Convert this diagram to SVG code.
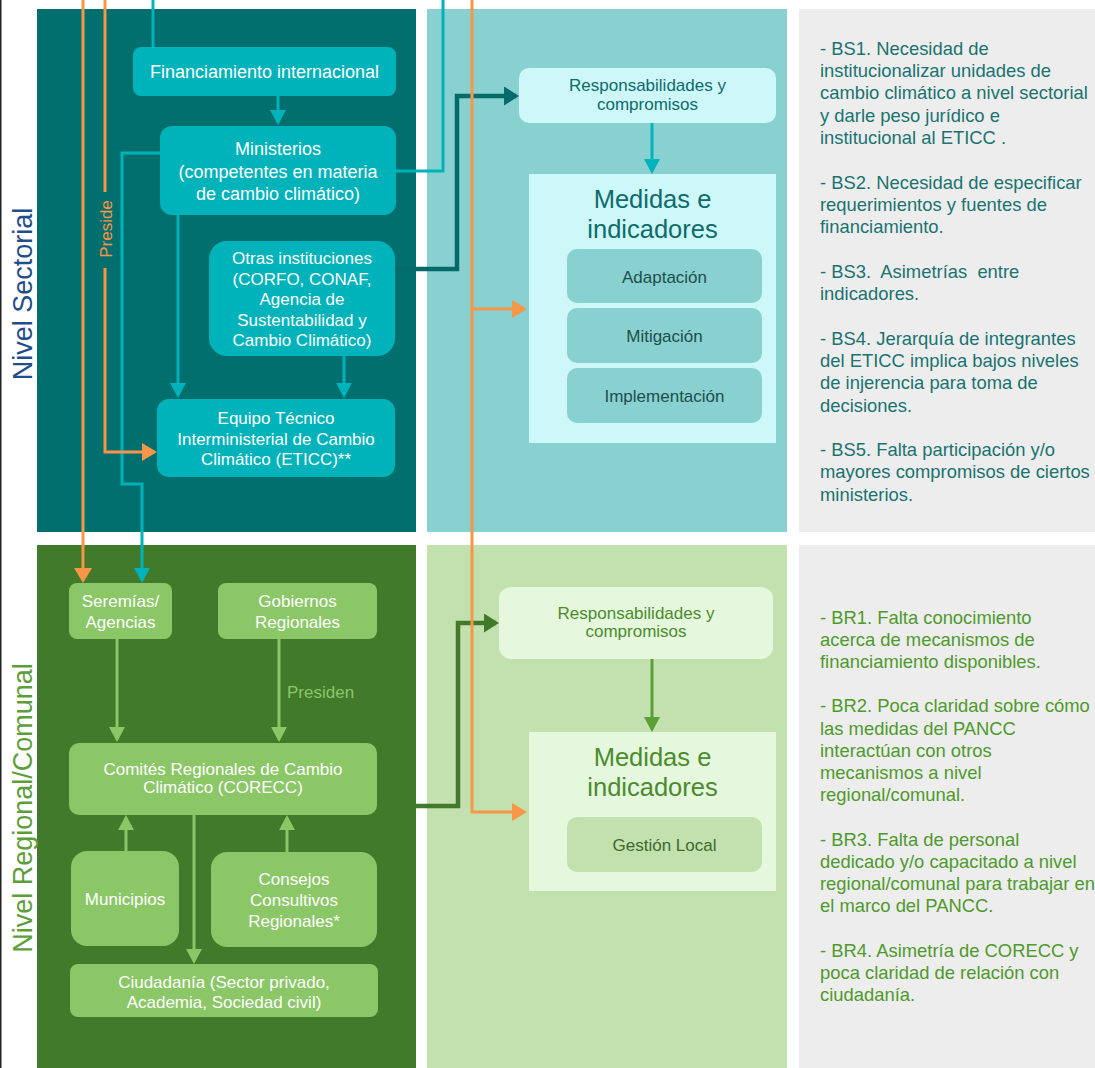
<svg xmlns="http://www.w3.org/2000/svg" width="1095" height="1068" viewBox="0 0 1095 1068">
<defs>
<style>
text{font-family:"Liberation Sans",Arial,sans-serif}
.wt{fill:#ffffff;font-size:17px;text-anchor:middle}
.wt18{fill:#ffffff;font-size:18px;text-anchor:middle}
.tealnode{fill:#00B3BA}
.grnnode{fill:#8BC767}
.ln{fill:none;stroke-width:3}
.lteal{stroke:#00B3BA}
.lorange{stroke:#F79646}
.ldark{stroke:#046B6A;stroke-width:4.5}
.lgrn{stroke:#8BC767}
.lgrnd{stroke:#417A2B;stroke-width:4.5}
.lgrnm{stroke:#5C9E38}
.bs{fill:#197370;font-size:18.4px}
.br{fill:#4E9A2C;font-size:18.4px}
</style>
<marker id="aTeal" markerUnits="userSpaceOnUse" viewBox="0 0 15 16" markerWidth="15" markerHeight="16" refX="12" refY="8" orient="auto"><path d="M0,0 L15,8 L0,16 z" fill="#00B3BA"/></marker>
<marker id="aOrange" markerUnits="userSpaceOnUse" viewBox="0 0 15 18" markerWidth="15" markerHeight="18" refX="12" refY="9" orient="auto"><path d="M0,0 L15,9 L0,18 z" fill="#F79646"/></marker>
<marker id="aDark" markerUnits="userSpaceOnUse" viewBox="0 0 15 19" markerWidth="15" markerHeight="19" refX="12" refY="9.5" orient="auto"><path d="M0,0 L15,9.5 L0,19 z" fill="#046B6A"/></marker>
<marker id="aGrn" markerUnits="userSpaceOnUse" viewBox="0 0 15 16" markerWidth="15" markerHeight="16" refX="12" refY="8" orient="auto"><path d="M0,0 L15,8 L0,16 z" fill="#8BC767"/></marker>
<marker id="aGrnD" markerUnits="userSpaceOnUse" viewBox="0 0 15 19" markerWidth="15" markerHeight="19" refX="12" refY="9.5" orient="auto"><path d="M0,0 L15,9.5 L0,19 z" fill="#417A2B"/></marker>
<marker id="aGrnM" markerUnits="userSpaceOnUse" viewBox="0 0 15 16" markerWidth="15" markerHeight="16" refX="12" refY="8" orient="auto"><path d="M0,0 L15,8 L0,16 z" fill="#5C9E38"/></marker>
</defs>
<rect x="0" y="0" width="1095" height="1068" fill="#ffffff"/>
<rect x="0" y="0" width="1.5" height="1068" fill="#222222"/>

<g id="panels">
<rect x="37" y="9" width="379" height="523" fill="#016F6D"/>
<rect x="427" y="9" width="360" height="523" fill="#88D1D0"/>
<rect x="799" y="9" width="296" height="523" fill="#EDEDED"/>
<rect x="37" y="545" width="379" height="523" fill="#417A2B"/>
<rect x="427" y="545" width="360" height="523" fill="#C3E0AF"/>
<rect x="799" y="545" width="296" height="523" fill="#EDEDED"/>
</g>

<g id="level-labels">
<text transform="translate(32,294) rotate(-90)" text-anchor="middle" font-size="27" fill="#1F4E8A">Nivel Sectorial</text>
<text transform="translate(32,808) rotate(-90)" text-anchor="middle" font-size="27" fill="#5C9E3A">Nivel Regional/Comunal</text>
</g>

<g id="connectors">
<path class="ln lteal" d="M153,0 V47"/>
<path class="ln lteal" d="M278,96 V122" marker-end="url(#aTeal)"/>
<path class="ln lteal" d="M396,171 H443 V0"/>
<path class="ln lteal" d="M160,153 H122 V484 H142 V580" marker-end="url(#aTeal)"/>
<path class="ln lteal" d="M178,215 V395" marker-end="url(#aTeal)"/>
<path class="ln lteal" d="M344,356 V395" marker-end="url(#aTeal)"/>
<path class="ln ldark" d="M395,269 H457 V96 H516" marker-end="url(#aDark)"/>
<path class="ln lteal" d="M652,123 V171" marker-end="url(#aTeal)"/>
<path class="ln lgrn" d="M117,639 V739" marker-end="url(#aGrn)"/>
<path class="ln lgrn" d="M279,639 V739" marker-end="url(#aGrn)"/>
<path class="ln lgrn" d="M126,851 V818" marker-end="url(#aGrn)"/>
<path class="ln lgrn" d="M287,852 V818" marker-end="url(#aGrn)"/>
<path class="ln lgrn" d="M194,815 V961" marker-end="url(#aGrn)"/>
<path class="ln lgrnd" d="M377,806 H458 V623 H496" marker-end="url(#aGrnD)"/>
<path class="ln lgrnm" d="M652,659 V729" marker-end="url(#aGrnM)"/>
<path class="ln lorange" d="M83,0 V580" marker-end="url(#aOrange)"/>
<path class="ln lorange" d="M105,0 V192"/>
<path class="ln lorange" d="M105,268 V452 H154" marker-end="url(#aOrange)"/>
<path class="ln lorange" d="M472,0 V812 H524" marker-end="url(#aOrange)"/>
<path class="ln lorange" d="M472,309 H524" marker-end="url(#aOrange)"/>
<text transform="translate(112,229) rotate(-90)" text-anchor="middle" font-size="17" fill="#F79646">Preside</text>
<text x="287" y="698" font-size="17" fill="#8BC767">Presiden</text>
</g>

<g id="financiamiento">
<rect class="tealnode" x="133" y="47" width="263" height="49" rx="8"/>
<text class="wt18" x="264.5" y="78.3">Financiamiento internacional</text>
</g>
<g id="ministerios">
<rect class="tealnode" x="160" y="126" width="236" height="89" rx="12"/>
<text class="wt18" x="278" y="155.3">Ministerios</text>
<text class="wt18" x="278" y="177.6">(competentes en materia</text>
<text class="wt18" x="278" y="199.9">de cambio climático)</text>
</g>
<g id="otras">
<rect class="tealnode" x="209" y="241" width="186" height="115" rx="18"/>
<text class="wt" x="302" y="264">Otras instituciones</text>
<text class="wt" x="302" y="284.5">(CORFO, CONAF,</text>
<text class="wt" x="302" y="305">Agencia de</text>
<text class="wt" x="302" y="325.5">Sustentabilidad y</text>
<text class="wt" x="302" y="346">Cambio Climático)</text>
</g>
<g id="eticc">
<rect class="tealnode" x="157" y="399" width="238" height="78" rx="12"/>
<text class="wt" x="276" y="424">Equipo Técnico</text>
<text class="wt" x="276" y="444.5">Interministerial de Cambio</text>
<text class="wt" x="276" y="465">Climático (ETICC)**</text>
</g>

<g id="resp-sectorial">
<rect x="519" y="68" width="257" height="55" rx="10" fill="#CDF7F8"/>
<text x="647.5" y="91" font-size="17" text-anchor="middle" fill="#0E6B6A">Responsabilidades y</text>
<text x="647.5" y="110" font-size="17" text-anchor="middle" fill="#0E6B6A">compromisos</text>
</g>
<g id="medidas-sectorial">
<rect x="529" y="174" width="247" height="269" fill="#CDF7F8"/>
<text x="652.5" y="208" font-size="25.5" text-anchor="middle" fill="#0E6B6A">Medidas e</text>
<text x="652.5" y="238" font-size="25.5" text-anchor="middle" fill="#0E6B6A">indicadores</text>
</g>
<g id="adaptacion">
<rect x="567" y="249" width="195" height="54" rx="10" fill="#88D1D0"/>
<text x="664.5" y="283" font-size="17" text-anchor="middle" fill="#1D4E4D">Adaptación</text>
</g>
<g id="mitigacion">
<rect x="567" y="308" width="195" height="55" rx="10" fill="#88D1D0"/>
<text x="664.5" y="341.5" font-size="17" text-anchor="middle" fill="#1D4E4D">Mitigación</text>
</g>
<g id="implementacion">
<rect x="567" y="368" width="195" height="55" rx="10" fill="#88D1D0"/>
<text x="664.5" y="401.5" font-size="17" text-anchor="middle" fill="#1D4E4D">Implementación</text>
</g>

<g id="seremias">
<rect class="grnnode" x="69" y="583" width="103" height="56" rx="8"/>
<text class="wt" x="120.5" y="607">Seremías/</text>
<text class="wt" x="120.5" y="628">Agencias</text>
</g>
<g id="gobiernos">
<rect class="grnnode" x="218" y="583" width="159" height="56" rx="8"/>
<text class="wt" x="297.5" y="607">Gobiernos</text>
<text class="wt" x="297.5" y="628">Regionales</text>
</g>
<g id="corecc">
<rect class="grnnode" x="69" y="743" width="308" height="72" rx="10"/>
<text class="wt" x="223" y="775">Comités Regionales de Cambio</text>
<text class="wt" x="223" y="793">Climático (CORECC)</text>
</g>
<g id="municipios">
<rect class="grnnode" x="71" y="851" width="108" height="95" rx="16"/>
<text class="wt" x="125" y="905">Municipios</text>
</g>
<g id="consejos">
<rect class="grnnode" x="211" y="852" width="166" height="95" rx="16"/>
<text class="wt" x="294" y="885">Consejos</text>
<text class="wt" x="294" y="906">Consultivos</text>
<text class="wt" x="294" y="927">Regionales*</text>
</g>
<g id="ciudadania">
<rect class="grnnode" x="70" y="964" width="308" height="53" rx="8"/>
<text class="wt" x="224" y="988">Ciudadanía (Sector privado,</text>
<text class="wt" x="224" y="1008">Academia, Sociedad civil)</text>
</g>

<g id="resp-regional">
<rect x="499" y="587" width="274" height="72" rx="12" fill="#E5F7DC"/>
<text x="636" y="619" font-size="17" text-anchor="middle" fill="#4B8B2E">Responsabilidades y</text>
<text x="636" y="637" font-size="17" text-anchor="middle" fill="#4B8B2E">compromisos</text>
</g>
<g id="medidas-regional">
<rect x="529" y="732" width="247" height="159" fill="#E5F7DC"/>
<text x="652.5" y="766" font-size="25.5" text-anchor="middle" fill="#4B8B2E">Medidas e</text>
<text x="652.5" y="796" font-size="25.5" text-anchor="middle" fill="#4B8B2E">indicadores</text>
</g>
<g id="gestion-local">
<rect x="567" y="817" width="195" height="55" rx="10" fill="#C3E0AF"/>
<text x="664.5" y="851" font-size="17" text-anchor="middle" fill="#3D6A2A">Gestión Local</text>
</g>

<g id="barreras-sectorial">
<text class="bs">
<tspan x="820" y="54.8">- BS1. Necesidad de</tspan>
<tspan x="820" dy="22.3">institucionalizar unidades de</tspan>
<tspan x="820" dy="22.3">cambio climático a nivel sectorial</tspan>
<tspan x="820" dy="22.3">y darle peso jurídico e</tspan>
<tspan x="820" dy="22.3">institucional al ETICC .</tspan>
<tspan x="820" dy="44.6">- BS2. Necesidad de especificar</tspan>
<tspan x="820" dy="22.3">requerimientos y fuentes de</tspan>
<tspan x="820" dy="22.3">financiamiento.</tspan>
<tspan x="820" dy="44.6" xml:space="preserve">- BS3.  Asimetrías  entre</tspan>
<tspan x="820" dy="22.3">indicadores.</tspan>
<tspan x="820" dy="44.6">- BS4. Jerarquía de integrantes</tspan>
<tspan x="820" dy="22.3">del ETICC implica bajos niveles</tspan>
<tspan x="820" dy="22.3">de injerencia para toma de</tspan>
<tspan x="820" dy="22.3">decisiones.</tspan>
<tspan x="820" dy="44.6">- BS5. Falta participación y/o</tspan>
<tspan x="820" dy="22.3">mayores compromisos de ciertos</tspan>
<tspan x="820" dy="22.3">ministerios.</tspan>
</text>
</g>
<g id="barreras-regional">
<text class="br">
<tspan x="820" y="623.5">- BR1. Falta conocimiento</tspan>
<tspan x="820" dy="22.2">acerca de mecanismos de</tspan>
<tspan x="820" dy="22.2">financiamiento disponibles.</tspan>
<tspan x="820" dy="44.4">- BR2. Poca claridad sobre cómo</tspan>
<tspan x="820" dy="22.2">las medidas del PANCC</tspan>
<tspan x="820" dy="22.2">interactúan con otros</tspan>
<tspan x="820" dy="22.2">mecanismos a nivel</tspan>
<tspan x="820" dy="22.2">regional/comunal.</tspan>
<tspan x="820" dy="44.4">- BR3. Falta de personal</tspan>
<tspan x="820" dy="22.2">dedicado y/o capacitado a nivel</tspan>
<tspan x="820" dy="22.2">regional/comunal para trabajar en</tspan>
<tspan x="820" dy="22.2">el marco del PANCC.</tspan>
<tspan x="820" dy="44.4">- BR4. Asimetría de CORECC y</tspan>
<tspan x="820" dy="22.2">poca claridad de relación con</tspan>
<tspan x="820" dy="22.2">ciudadanía.</tspan>
</text>
</g>
</svg>
